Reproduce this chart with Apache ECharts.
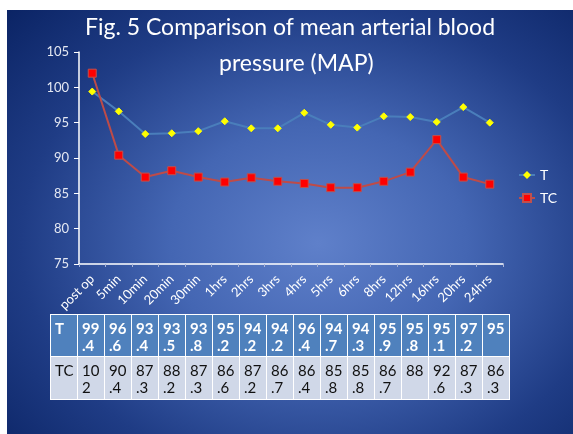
<!DOCTYPE html>
<html>
<head>
<meta charset="utf-8">
<script src="https://cdn.jsdelivr.net/npm/echarts@6/dist/echarts.min.js"></script>
<style>
  html, body { margin: 0; background: #fff; overflow: hidden; width: 573px; height: 434px; }
  #bg {
    position: absolute; left: 7px; top: 10px; right: 0; bottom: 0;
    background: radial-gradient(ellipse 75% 80% at 55% 55%, #5f80ca 0%, #4466b3 35%, #1f3c85 70%, #0b2465 100%);
  }
  #main { position: absolute; left: 0; top: 0; width: 573px; height: 434px; }
  #tbl {
    position: absolute; left: 50px; top: 314px; border-collapse: collapse;
    font-family: Lato, "Open Sans", sans-serif; font-size: 15px; line-height: 17px;
  }
  #tbl td {
    border: 1.5px solid #fff; width: 20px; padding: 5px 2px 2px 4px;
    vertical-align: top; text-align: left;
  }
  #tbl tr.t td { background: #4f81bd; color: #fff; font-weight: bold; height: 33px; }
  #tbl tr.tc td { background: #d0d8e8; color: #111; height: 35px; }
</style>
</head>
<body>
<div id="bg"></div>
<div id="main"></div>
<table id="tbl"></table>
<script>
const categories = ['post op', '5min', '10min', '20min', '30min', '1hrs', '2hrs', '3hrs',
  '4hrs', '5hrs', '6hrs', '8hrs', '12hrs', '16hrs', '20hrs', '24hrs'];
const tValues = [99.4, 96.6, 93.4, 93.5, 93.8, 95.2, 94.2, 94.2, 96.4, 94.7, 94.3, 95.9, 95.8, 95.1, 97.2, 95];
const tcValues = [102, 90.4, 87.3, 88.2, 87.3, 86.6, 87.2, 86.7, 86.4, 85.8, 85.8, 86.7, 88, 92.6, 87.3, 86.3];

// data table under the chart (cells wrap after two characters like the original)
function cell(v) {
  const s = String(v);
  return s.length > 2 ? s.slice(0, 2) + '<br>' + s.slice(2) : s;
}
const tbl = document.getElementById('tbl');
tbl.innerHTML =
  '<tr class="t"><td>T</td>' + tValues.map(v => '<td>' + cell(v) + '</td>').join('') + '</tr>' +
  '<tr class="tc"><td>TC</td>' + tcValues.map(v => '<td>' + cell(v) + '</td>').join('') + '</tr>';

const chart = echarts.init(document.getElementById('main'));
const font = 'Lato, "Open Sans", sans-serif';

chart.setOption({
  backgroundColor: 'transparent',
  textStyle: { fontFamily: font },
  title: [
    { text: 'Fig. 5 Comparison of mean arterial blood', left: 80, top: 11,
      textStyle: { color: '#fff', fontSize: 23, fontWeight: 'normal', fontFamily: font } },
    { text: 'pressure (MAP)', left: 214, top: 47,
      textStyle: { color: '#fff', fontSize: 23, fontWeight: 'normal', fontFamily: font } }
  ],
  legend: {
    orient: 'vertical', left: 513, top: 163, itemWidth: 16, itemHeight: 10, itemGap: 9,
    textStyle: { color: '#fff', fontSize: 14 },
    data: ['T', 'TC']
  },
  grid: { left: 79, right: 70, top: 52, bottom: 170 },
  xAxis: {
    type: 'category', data: categories, boundaryGap: true,
    axisLine: { lineStyle: { color: '#fff', width: 1.5 } },
    axisTick: { show: true, length: 3, lineStyle: { color: '#a8b4d8' } },
    axisLabel: { color: '#fff', fontSize: 13, rotate: 45, margin: 13, interval: 0 }
  },
  yAxis: {
    type: 'value', min: 75, max: 105, interval: 5,
    axisLine: { show: true, lineStyle: { color: '#fff', width: 1.5 } },
    axisTick: { show: true, length: 5, lineStyle: { color: '#fff' } },
    axisLabel: { color: '#e4e8f2', fontSize: 13, margin: 10 },
    splitLine: { show: false }
  },
  series: [
    {
      name: 'T', type: 'line', data: tValues,
      symbol: 'diamond', symbolSize: 7,
      lineStyle: { color: '#4a7ebb', width: 2 },
      itemStyle: { color: '#ffff00', borderColor: '#ffff00' }
    },
    {
      name: 'TC', type: 'line', data: tcValues,
      symbol: 'rect', symbolSize: 8,
      lineStyle: { color: '#be4b48', width: 2 },
      itemStyle: { color: '#ff0000', borderColor: '#c0504d', borderWidth: 1 }
    }
  ]
});
</script>
</body>
</html>
